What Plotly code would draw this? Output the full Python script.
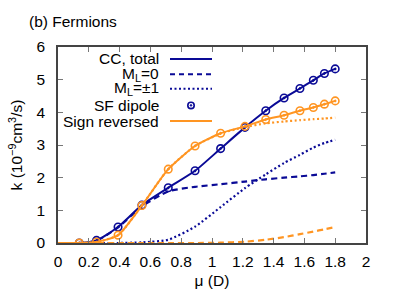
import plotly.graph_objects as go

# ---- data ----
mu_pts = [0.138, 0.25, 0.39, 0.545, 0.716, 0.89, 1.056, 1.214, 1.349, 1.468, 1.571, 1.658, 1.73, 1.80]
sf_dipole = [0.0, 0.08, 0.49, 1.16, 1.69, 2.21, 2.89, 3.54, 4.05, 4.44, 4.73, 4.98, 5.19, 5.33]
sign_rev_pts = [0.0, 0.03, 0.24, 1.15, 2.26, 2.97, 3.36, 3.57, 3.78, 3.91, 4.05, 4.15, 4.25, 4.35]

mu_line = [0.0, 0.138, 0.25, 0.39, 0.545, 0.716, 0.89, 1.056, 1.214, 1.349, 1.468, 1.571, 1.658, 1.73, 1.80]
cc_total = [0.0, 0.0, 0.08, 0.49, 1.16, 1.69, 2.21, 2.89, 3.54, 4.05, 4.44, 4.73, 4.98, 5.19, 5.33]
cc_ml0 = [0.0, 0.0, 0.07, 0.48, 1.12, 1.58, 1.72, 1.80, 1.88, 1.95, 2.00, 2.04, 2.08, 2.12, 2.16]
cc_ml1 = [0.0, 0.0, 0.0, 0.0, 0.02, 0.10, 0.50, 1.10, 1.68, 2.10, 2.45, 2.70, 2.92, 3.06, 3.16]
rev_total = [0.0, 0.0, 0.03, 0.24, 1.15, 2.26, 2.97, 3.36, 3.57, 3.78, 3.91, 4.05, 4.15, 4.25, 4.35]
rev_ml0 = [0.0, 0.0, 0.0, 0.0, 0.0, 0.0, 0.0, 0.01, 0.04, 0.10, 0.18, 0.27, 0.35, 0.42, 0.49]
rev_ml1 = [0.0, 0.0, 0.03, 0.24, 1.15, 2.26, 2.97, 3.35, 3.55, 3.66, 3.72, 3.76, 3.79, 3.81, 3.84]

x_ticks = [0, 0.2, 0.4, 0.6, 0.8, 1, 1.2, 1.4, 1.6, 1.8, 2]
x_tick_text = ["0", "0.2", "0.4", "0.6", "0.8", "1", "1.2", "1.4", "1.6", "1.8", "2"]
y_ticks = [0, 1, 2, 3, 4, 5, 6]

legend_labels = ["CC, total", "M<sub>L</sub>=0", "M<sub>L</sub>=±1", "SF dipole", "Sign reversed"]

BLUE = "#0a0a96"
ORANGE = "#ff9522"
FONT = "Liberation Sans, Arial, sans-serif"
FS = 15.5

fig = go.Figure()

def line(y, color, dash, width=2):
    fig.add_trace(go.Scatter(x=mu_line, y=y, mode="lines",
                             line=dict(color=color, dash=dash, width=width, shape="spline", smoothing=0.6),
                             showlegend=False, hoverinfo="skip"))

def pts(y, color):
    fig.add_trace(go.Scatter(x=mu_pts, y=y, mode="markers",
                             marker=dict(symbol="circle-open-dot", size=7.5, color=color,
                                         line=dict(width=1.6, color=color)),
                             showlegend=False, hoverinfo="skip"))

line(cc_ml0, BLUE, "6px,4px", 2.2)
line(cc_ml1, BLUE, "2px,2.5px", 2.2)
line(cc_total, BLUE, "solid")
pts(sf_dipole, BLUE)
line(rev_ml0, ORANGE, "6px,4px", 2.2)
line(rev_ml1, ORANGE, "2px,2.5px", 2.2)
line(rev_total, ORANGE, "solid")
pts(sign_rev_pts, ORANGE)

# ---- manual gnuplot-style legend (text right, sample to its right) ----
leg_y = [0.939, 0.861, 0.787, 0.702, 0.622]
txt_x = (161 - 58) / 308
s0, s1 = (170 - 58) / 308, (212 - 58) / 308
styles = [(BLUE, "solid"), (BLUE, "dash"), (BLUE, "dot"), (BLUE, None), (ORANGE, "solid")]
shapes = []
annotations = []
for lab, yy, (col, dsh) in zip(legend_labels, leg_y, styles):
    annotations.append(dict(text=lab, x=txt_x, y=yy, xref="paper", yref="paper",
                            xanchor="right", yanchor="middle", showarrow=False,
                            font=dict(size=FS, color="black", family=FONT)))
    if dsh is None:
        cx = (s0 + s1) / 2
        shapes.append(dict(type="circle", xref="paper", yref="paper", xsizemode="pixel", ysizemode="pixel",
                           xanchor=cx, yanchor=yy, x0=-3.2, x1=3.2, y0=-3.2, y1=3.2,
                           line=dict(color=col, width=1.6)))
        shapes.append(dict(type="circle", xref="paper", yref="paper", xsizemode="pixel", ysizemode="pixel",
                           xanchor=cx, yanchor=yy, x0=-0.8, x1=0.8, y0=-0.8, y1=0.8,
                           line=dict(color=col, width=1), fillcolor=col))
    else:
        d = {"solid": "solid", "dash": "5px,4px", "dot": "2px,2.5px"}[dsh]
        shapes.append(dict(type="line", xref="paper", yref="paper", x0=s0, x1=s1, y0=yy, y1=yy,
                           line=dict(color=col, width=2, dash=d)))

annotations.append(dict(text="(b) Fermions", x=(27 - 58) / 308, y=(243 - 22) / 196, xref="paper", yref="paper",
                        xanchor="left", yanchor="middle", showarrow=False,
                        font=dict(size=FS, color="black", family=FONT)))

axis_common = dict(showgrid=False, zeroline=False, ticks="inside", ticklen=5, tickwidth=1,
                   tickcolor="#777777", mirror="ticks", showline=True, linecolor="#444444", linewidth=1.5,
                   tickfont=dict(size=FS, color="black", family=FONT), automargin=False)

fig.update_layout(
    width=395, height=294,
    margin=dict(l=58, r=29, t=47, b=51),
    paper_bgcolor="white", plot_bgcolor="white",
    font=dict(family=FONT, size=FS, color="black"),
    showlegend=False,
    shapes=shapes,
    annotations=annotations,
    xaxis=dict(range=[0, 2], tickvals=x_ticks, ticktext=x_tick_text,
               title=dict(text="μ (D)", standoff=6, font=dict(size=FS)), ticklabelstandoff=4, **axis_common),
    yaxis=dict(range=[0, 6], tickvals=y_ticks,
               title=dict(text="k (10<sup>−9</sup>cm<sup>3</sup>/s)", standoff=10, font=dict(size=FS)),
               ticklabelstandoff=8, **axis_common),
)

fig.write_html("out.html", config={"displayModeBar": False},
               post_script="document.body.style.margin='0';document.body.style.padding='0';")
